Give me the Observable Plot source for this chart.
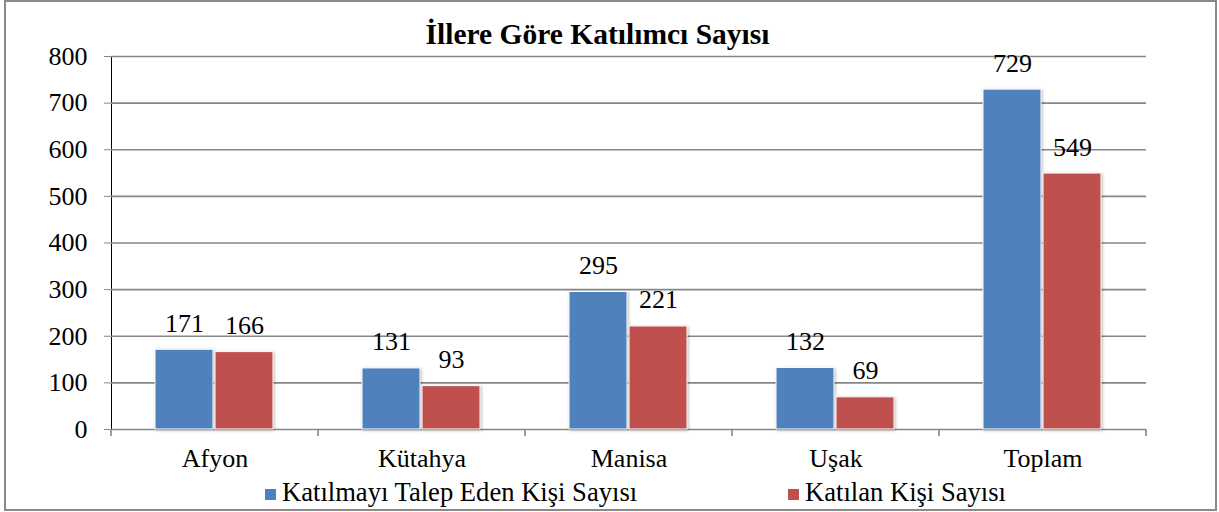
<!DOCTYPE html>
<html>
<head>
<meta charset="utf-8">
<script src="https://cdn.jsdelivr.net/npm/d3@7"></script>
<script src="https://cdn.jsdelivr.net/npm/@observablehq/plot@0.6"></script>
<style>
  html, body { margin: 0; padding: 0; background: #fff; }
  #wrap { position: relative; width: 1219px; height: 512px; overflow: hidden; font-family: "Liberation Serif", "Times New Roman", serif; color: #000; }
  #border { position: absolute; left: 4px; top: 0px; width: 1213px; height: 511px; border: 2px solid #8a8a8a; box-sizing: border-box; }
  #title { position: absolute; left: -12px; top: 20px; width: 1219px; text-align: center; font-weight: bold; font-size: 29.5px; line-height: 1; }
  #chart { position: absolute; left: 0; top: 46px; }
  .leg { position: absolute; top: 479px; font-size: 26.6px; line-height: 1; white-space: nowrap; }
  .sw { display: inline-block; width: 11px; height: 11px; margin-right: 6px; vertical-align: 1px; }
  #chart svg g[aria-label^="y-axis"] line, #chart svg g[aria-label^="y-axis"] path { stroke: #868686; }
  #chart svg g[aria-label="bar"] rect { filter: drop-shadow(1.5px 1.5px 1.5px rgba(0,0,0,0.28)); }
</style>
</head>
<body>
<div id="wrap">
  <div id="border"></div>
  <div id="title"></div>
  <div id="chart"></div>
  <div id="leg0" class="leg" style="left:265px"></div>
  <div id="leg1" class="leg" style="left:788px"></div>
</div>
<script>
const titleText = "İllere Göre Katılımcı Sayısı";
const categories = ["Afyon", "Kütahya", "Manisa", "Uşak", "Toplam"];
const series = ["Katılmayı Talep Eden Kişi Sayısı", "Katılan Kişi Sayısı"];
const requested = [171, 131, 295, 132, 729];
const attended = [166, 93, 221, 69, 549];
const yTicks = [0, 100, 200, 300, 400, 500, 600, 700, 800];
const colors = ["#4F81BD", "#C0504D"];
const gridColor = "#868686";

const data = categories.flatMap((c, i) => [
  {cat: c, series: series[0], value: requested[i]},
  {cat: c, series: series[1], value: attended[i]}
]);

document.getElementById("title").textContent = titleText;
series.forEach((s, i) => {
  const el = document.getElementById("leg" + i);
  const sw = document.createElement("span");
  sw.className = "sw";
  sw.style.background = colors[i];
  el.appendChild(sw);
  el.appendChild(document.createTextNode(s));
});

const plot = Plot.plot({
  width: 1219,
  height: 428,
  marginLeft: 110,
  marginRight: 72,
  marginTop: 10,
  marginBottom: 45,
  style: {fontFamily: "'Liberation Serif', 'Times New Roman', serif", fontSize: "26px", color: "#000", background: "transparent", overflow: "visible"},
  facet: {data: data, x: "cat"},
  fx: {domain: categories, padding: 0, label: null, axis: "bottom", tickSize: 0, tickPadding: 19},
  x: {domain: series, paddingInner: 0.03, paddingOuter: 0.74, axis: null},
  y: {domain: [0, 800], ticks: yTicks, tickSize: 7, tickPadding: 17, label: null, line: true},
  color: {domain: series, range: colors},
  marks: [
    Plot.ruleY(yTicks, {stroke: gridColor, strokeWidth: 1.6}),
    Plot.barY(data, {x: "series", y: "value", fill: "series", stroke: "#fff", strokeWidth: 1}),
    Plot.text(data, {x: "series", y: "value", text: d => String(d.value), lineAnchor: "bottom", dy: -18, fill: "#000"})
  ]
});
document.getElementById("chart").appendChild(plot);

// x-axis boundary ticks between categories, from the library's own scales
try {
  const fx = plot.scale("fx");
  const y = plot.scale("y");
  const y0 = y.apply(0);
  const edges = categories.map(c => fx.apply(c)).concat([fx.apply(categories[categories.length - 1]) + fx.bandwidth]);
  const svg = d3.select(plot.tagName.toLowerCase() === "svg" ? plot : plot.querySelector("svg"));
  svg.append("g").selectAll("line").data(edges).join("line")
    .attr("x1", d => d).attr("x2", d => d)
    .attr("y1", y0).attr("y2", y0 + 7)
    .attr("stroke", gridColor).attr("stroke-width", 1.6);
} catch (e) { console.error(e); }
</script>
</body>
</html>
